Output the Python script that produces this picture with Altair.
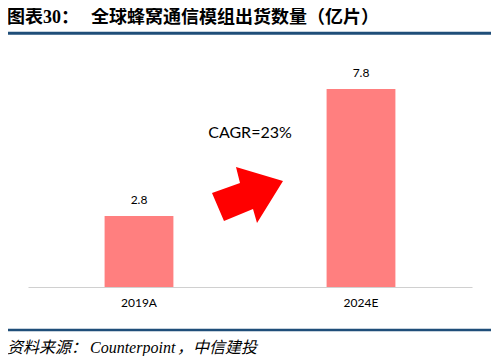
import altair as alt
import pandas as pd

# ---- data ----
categories = ["2019A", "2024E"]
values = [2.8, 7.8]
value_labels = ["2.8", "7.8"]

title_prefix = "图表"
title_num = "30"
title_colon = "："
title_main = "全球蜂窝通信模组出货数量（亿片）"
source_parts = ["资料来源：", "Counterpoint", "，中信建投"]
cagr_text = "CAGR=23%"

df = pd.DataFrame({"cat": categories, "val": values, "lab": value_labels})
one = pd.DataFrame({"k": [0]})

W, H = 444, 246
BAR = "#FF7F7F"
NAVY = "#1F4E79"

xenc = alt.X(
    "cat:N",
    sort=categories,
    title=None,
    scale=alt.Scale(paddingInner=0.69, paddingOuter=0.345),
    axis=alt.Axis(
        labelAngle=0,
        domainColor="#D0D0D0",
        domainWidth=1.2,
        ticks=False,
        tickSize=0,
        labelPadding=10,
        labelFontSize=12,
        labelFont="Lato",
        labelColor="#000000",
        grid=False,
    ),
)
yenc = alt.Y("val:Q", scale=alt.Scale(domain=[0, 9.69], nice=False, zero=True), axis=None)

bars = alt.Chart(df).mark_bar(color=BAR).encode(x=xenc, y=yenc)
labels = alt.Chart(df).mark_text(
    font="Lato", fontSize=12, dy=-16, baseline="middle", color="#000000"
).encode(x=alt.X("cat:N", sort=categories), y="val:Q", text="lab:N")

arrow_path = ("M-1,-0.056 L-0.662,0.732 L0.155,0.394 L0.268,0.789 "
              "L1,-0.394 L-0.324,-0.789 L-0.211,-0.338 Z")
arrow = alt.Chart(one).mark_point(
    shape=arrow_path, size=5041, filled=True, color="#FF0000", opacity=1, strokeWidth=0
).encode(x=alt.value(219.5), y=alt.value(154))

cagr = alt.Chart(one).mark_text(
    text=cagr_text, font="Lato", fontSize=16, align="center", baseline="middle", color="#000000"
).encode(x=alt.value(222), y=alt.value(92))


def txt(t, x, y, font, size, weight="normal", style="normal"):
    return alt.Chart(one).mark_text(
        text=t, font=font, fontSize=size, fontWeight=weight, fontStyle=style,
        align="left", baseline="middle", color="#000000"
    ).encode(x=alt.value(x), y=alt.value(y))


TY = -22.8
t1 = txt(title_prefix, -21, TY, "Noto Sans CJK SC", 18, "bold")
t2 = txt(title_num, 15, TY, "Liberation Serif", 18, "bold")
t3 = txt(title_colon, 33, TY, "Noto Sans CJK SC", 18, "bold")
t4 = txt(title_main, 63, TY, "Noto Sans CJK SC", 18, "bold")

SY = 306.5
s1 = txt(source_parts[0], -21, SY, "Noto Sans CJK SC", 16, "normal", "italic")
s2 = txt(source_parts[1], 62, SY, "Liberation Serif", 16, "normal", "italic")
s3 = txt(source_parts[2], 149, SY, "Noto Sans CJK SC", 16, "normal", "italic")

rule_top = alt.Chart(one).mark_rule(color=NAVY, strokeWidth=3).encode(
    x=alt.value(-21), x2=alt.value(463), y=alt.value(-7.7)
)
rule_bot = alt.Chart(one).mark_rule(color=NAVY, strokeWidth=2.5).encode(
    x=alt.value(-21), x2=alt.value(463), y=alt.value(289)
)

chart = alt.layer(
    bars, labels, arrow, cagr, t1, t2, t3, t4, s1, s2, s3, rule_top, rule_bot
).properties(
    width=W,
    height=H,
    autosize=alt.AutoSizeParams(type="none"),
    padding={"left": 20, "top": 33, "right": 19, "bottom": 69},
).configure_view(stroke=None)

chart.save("out.html", embed_options={"renderer": "svg", "actions": False})
